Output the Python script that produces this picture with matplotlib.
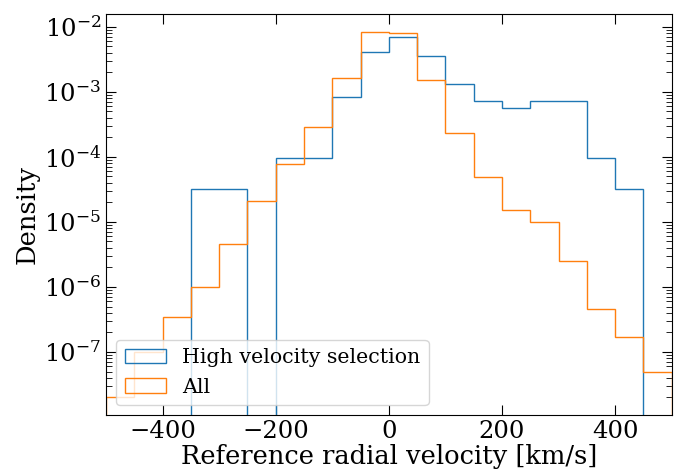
import matplotlib
matplotlib.use("Agg")
import matplotlib.pyplot as plt
import numpy as np

# bin edges, 50 km/s wide
edges = np.arange(-500, 501, 50)

# densities (0 = empty bin)
high_vel = [0, 0, 0, 3.2e-5, 3.2e-5, 0, 9.6e-5, 9.6e-5, 8.3e-4, 4.1e-3,
            7.0e-3, 3.6e-3, 1.3e-3, 7.3e-4, 5.7e-4, 7.3e-4, 7.3e-4, 9.6e-5, 3.2e-5, 0]
all_stars = [2.0e-8, 1.0e-7, 3.4e-7, 1.0e-6, 4.6e-6, 2.1e-5, 7.8e-5, 2.9e-4, 1.6e-3, 8.4e-3,
             8.1e-3, 1.5e-3, 2.3e-4, 4.9e-5, 1.5e-5, 1.0e-5, 2.5e-6, 4.6e-7, 1.7e-7, 4.9e-8]

plt.rcParams['font.family'] = 'DejaVu Serif'
plt.rcParams['mathtext.fontset'] = 'dejavuserif'

fig = plt.figure(figsize=(6.84, 4.75), dpi=100)
ax = fig.add_axes([0.155, 0.126, 0.827, 0.845])

centers = edges[:-1] + 25
ax.hist(centers, bins=edges, weights=high_vel, histtype='step', label='High velocity selection', log=True)
ax.hist(centers, bins=edges, weights=all_stars, histtype='step', label='All', log=True)

ax.set_xlim(-500, 500)
ax.set_ylim(1.07e-8, 1.58e-2)
ax.set_xlabel('Reference radial velocity [km/s]', fontsize=18.5, labelpad=1)
ax.set_ylabel('Density', fontsize=18.5, labelpad=3)

ax.tick_params(which='both', direction='in', top=True, right=True, labelsize=17.5)
ax.tick_params(which='major', length=7)
ax.tick_params(which='minor', length=4)

ax.legend(loc='lower left', fontsize=14.8)

fig.savefig('out.png', dpi=100)
